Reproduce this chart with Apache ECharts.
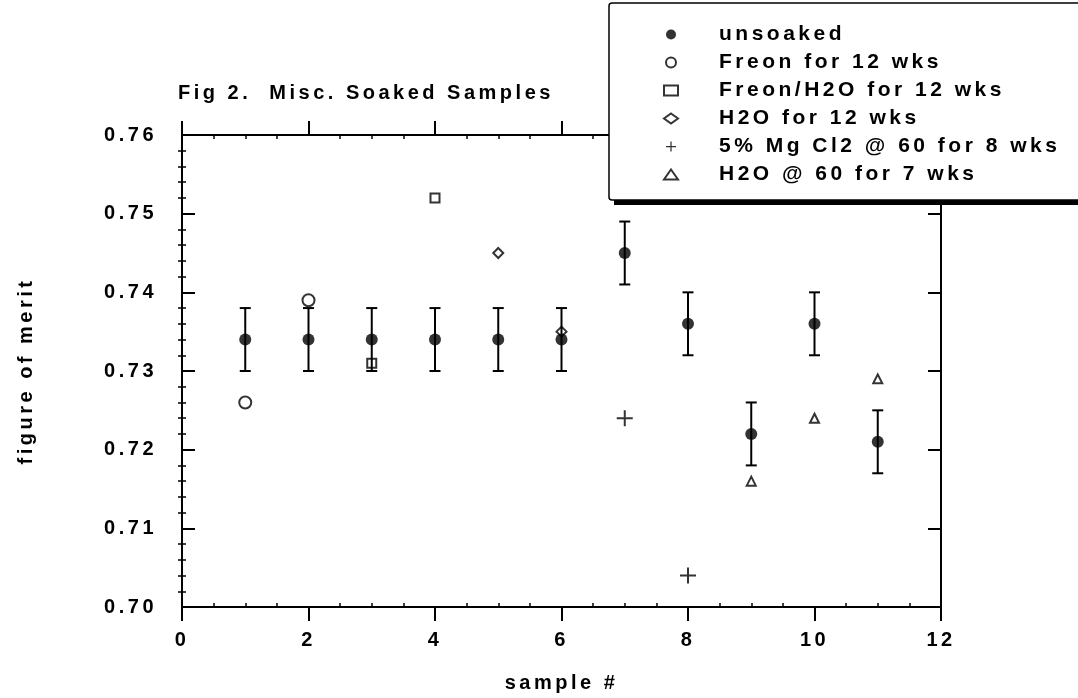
<!DOCTYPE html>
<html>
<head>
<meta charset="utf-8">
<script src="https://cdn.jsdelivr.net/npm/echarts@6/dist/echarts.min.js"></script>
<style>
html,body{margin:0;padding:0;background:#fff;}
#main{width:1078px;height:698px;}
</style>
</head>
<body>
<div id="main"></div>
<script>
// ---- data ----
const sampleX = [1, 2, 3, 4, 5, 6, 7, 8, 9, 10, 11];
const unsoakedY = [0.734, 0.734, 0.734, 0.734, 0.734, 0.734, 0.745, 0.736, 0.722, 0.736, 0.721];
const unsoakedErr = [0.004, 0.004, 0.004, 0.004, 0.004, 0.004, 0.004, 0.004, 0.004, 0.004, 0.004];
const freonX = [1, 2];
const freonY = [0.726, 0.739];
const freonH2OX = [3, 4];
const freonH2OY = [0.731, 0.752];
const h2oX = [5, 6];
const h2oY = [0.745, 0.735];
const mgcl2X = [7, 8];
const mgcl2Y = [0.724, 0.704];
const h2o60X = [9, 10, 11];
const h2o60Y = [0.716, 0.724, 0.729];
const seriesNames = ['unsoaked', 'Freon for 12 wks', 'Freon/H2O for 12 wks', 'H2O for 12 wks',
  '5% Mg Cl2 @ 60 for 8 wks', 'H2O @ 60 for 7 wks'];
const titleText = 'Fig 2.  Misc. Soaked Samples';
const xName = 'sample #';
const yName = 'figure of merit';

const FONT = '"Liberation Sans", Arial, Helvetica, sans-serif';
const BLACK = '#000';
const pairs = (xs, ys) => xs.map((x, i) => [x, ys[i]]);

const gridRect = {left: 182, right: 137, top: 135, bottom: 91};
const lab = {fontFamily: FONT, fontSize: 20, fontWeight: 'bold', color: BLACK};

function majorX(pos, showLabel) {
  return {
    type: 'value', gridIndex: 0, position: pos, min: 0, max: 12, interval: 2,
    axisLine: {show: true, onZero: false, lineStyle: {color: BLACK, width: 2}},
    axisTick: {show: true, inside: false, length: 14, lineStyle: {color: BLACK, width: 2}},
    axisLabel: showLabel ? Object.assign({show: true, margin: 23}, lab) : {show: false},
    splitLine: {show: false},
    name: showLabel ? xName : '', nameLocation: 'middle', nameGap: 66,
    nameTextStyle: lab
  };
}
function majorY(pos, showLabel) {
  return {
    type: 'value', gridIndex: 0, position: pos, min: 0.70, max: 0.76, interval: 0.01,
    axisLine: {show: true, onZero: false, lineStyle: {color: BLACK, width: 2}},
    axisTick: {show: true, inside: true, length: 13, lineStyle: {color: BLACK, width: 2}},
    axisLabel: showLabel ? Object.assign({show: true, margin: 25, formatter: v => v.toFixed(2)}, lab) : {show: false},
    splitLine: {show: false},
    name: showLabel ? yName : '', nameLocation: 'middle', nameGap: 146,
    nameTextStyle: lab
  };
}
function minorX(pos) {
  return {
    type: 'value', gridIndex: 1, position: pos, min: 0, max: 12, interval: 2,
    axisLine: {show: false}, axisTick: {show: false, inside: true},
    axisLabel: {show: false}, splitLine: {show: false},
    minorTick: {show: true, splitNumber: 4, length: 4, lineStyle: {color: BLACK, width: 1.5}}
  };
}
function minorY(pos) {
  return {
    type: 'value', gridIndex: 1, position: pos, min: 0.70, max: 0.76, interval: 0.01,
    axisLine: {show: false}, axisTick: {show: false, inside: true},
    axisLabel: {show: false}, splitLine: {show: false},
    minorTick: {show: true, splitNumber: 5, length: 4, lineStyle: {color: BLACK, width: 1.5}}
  };
}

const openStyle = {color: 'rgba(255,255,255,0)', borderColor: BLACK, borderWidth: 2};
const plusPath = 'path://M7,0H9V7H16V9H9V16H7V9H0V7H7Z';

const option = {
  animation: false,
  backgroundColor: '#fff',
  title: {
    text: titleText, left: 178, top: 83, padding: 0,
    textStyle: lab
  },
  graphic: [
    {type: 'rect', z: 5, shape: {x: 614, y: 8, width: 480, height: 197}, style: {fill: BLACK}},
    {type: 'rect', z: 6, shape: {x: 609, y: 3, width: 480, height: 197, r: 3},
      style: {fill: '#fff', stroke: BLACK, lineWidth: 1.5}}
  ],
  legend: {
    orient: 'vertical', left: 663, top: 3, z: 10,
    padding: [21, 150, 12, 0],
    itemWidth: 14, itemHeight: 10, itemGap: 7,
    symbolKeepAspect: true,
    textStyle: {fontFamily: FONT, fontSize: 21, fontWeight: 'bold', color: BLACK, padding: [0, 0, 0, 36]},
    selectedMode: false,
    data: seriesNames
  },
  grid: [
    Object.assign({containLabel: false}, gridRect),
    Object.assign({containLabel: false}, gridRect)
  ],
  xAxis: [majorX('bottom', true), majorX('top', false), minorX('bottom'), minorX('top')],
  yAxis: [majorY('left', true), majorY('right', false), minorY('left'), minorY('right')],
  series: [
    {
      type: 'custom', name: 'errorbars', xAxisIndex: 0, yAxisIndex: 0, z: 2,
      data: sampleX.map((x, i) => [x, unsoakedY[i] - unsoakedErr[i], unsoakedY[i] + unsoakedErr[i]]),
      encode: {x: 0, y: [1, 2]},
      renderItem: function (params, api) {
        const x = api.value(0);
        const lo = api.coord([x, api.value(1)]);
        const hi = api.coord([x, api.value(2)]);
        const w = 5.5;
        const st = {stroke: BLACK, lineWidth: 2, fill: null};
        return {
          type: 'group',
          children: [
            {type: 'line', shape: {x1: lo[0], y1: lo[1], x2: hi[0], y2: hi[1]}, style: st},
            {type: 'line', shape: {x1: lo[0] - w, y1: lo[1], x2: lo[0] + w, y2: lo[1]}, style: st},
            {type: 'line', shape: {x1: hi[0] - w, y1: hi[1], x2: hi[0] + w, y2: hi[1]}, style: st}
          ]
        };
      }
    },
    {
      type: 'scatter', name: seriesNames[1], symbol: 'circle', symbolSize: 12, z: 3, symbolKeepAspect: true,
      itemStyle: openStyle, data: pairs(freonX, freonY)
    },
    {
      type: 'scatter', name: seriesNames[2], symbol: 'rect', symbolSize: 9, z: 3, symbolKeepAspect: true,
      itemStyle: openStyle, data: pairs(freonH2OX, freonH2OY)
    },
    {
      type: 'scatter', name: seriesNames[3], symbol: 'diamond', symbolSize: 10, z: 3, symbolKeepAspect: true,
      itemStyle: openStyle, data: pairs(h2oX, h2oY)
    },
    {
      type: 'scatter', name: seriesNames[4], symbol: plusPath, symbolSize: 16, z: 3, symbolKeepAspect: true,
      itemStyle: {color: BLACK}, data: pairs(mgcl2X, mgcl2Y)
    },
    {
      type: 'scatter', name: seriesNames[5], symbol: 'triangle', symbolSize: 9, z: 3, symbolKeepAspect: true,
      itemStyle: openStyle, data: pairs(h2o60X, h2o60Y)
    },
    {
      type: 'scatter', name: seriesNames[0], symbol: 'circle', symbolSize: 12, z: 4, symbolKeepAspect: true,
      itemStyle: {color: BLACK}, data: pairs(sampleX, unsoakedY)
    }
  ]
};

const dom = document.getElementById('main');
const chart = echarts.init(dom, null, {renderer: 'canvas'});
chart.setOption(option);
// widen the tracking of all texts, as in the typeset original
function applyTracking() {
  dom.querySelectorAll('canvas').forEach(function (c) {
    const ctx = c.getContext('2d');
    if (ctx && 'letterSpacing' in ctx) ctx.letterSpacing = '3.5px';
  });
  try { chart.getZr().painter.refresh(true); } catch (e) {}
}
applyTracking();
</script>
</body>
</html>
